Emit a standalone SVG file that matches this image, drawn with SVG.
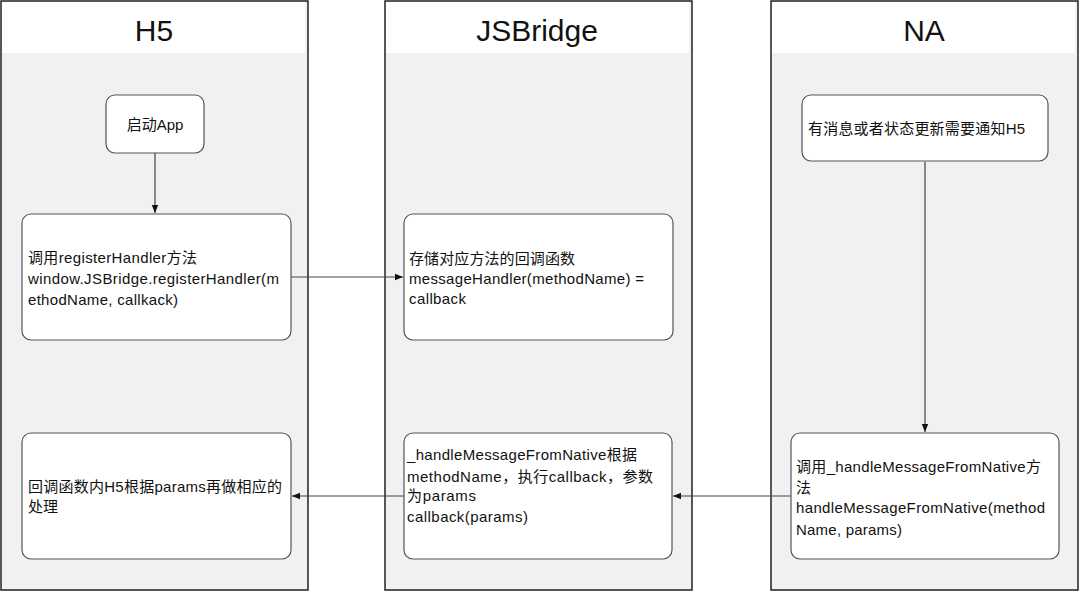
<svg xmlns="http://www.w3.org/2000/svg" width="1080" height="592" viewBox="0 0 1080 592">
<defs>
<style>
.lane{fill:#f1f0f2;stroke:#222;stroke-width:1.5}
.head{fill:#ffffff}
.title{font-family:"Liberation Sans","Noto Sans CJK SC",sans-serif;font-size:30px;fill:#111;text-anchor:middle}
.node{fill:#ffffff;stroke:#555;stroke-width:1.2}
.t{font-family:"Liberation Sans","Noto Sans CJK SC",sans-serif;font-size:15px;fill:#111}
.edge{stroke:#444;stroke-width:1.2;fill:none}
</style>
<marker id="arr" viewBox="0 0 10 10" refX="10" refY="5" markerWidth="8" markerHeight="8" markerUnits="userSpaceOnUse" orient="auto">
<path d="M0,1 L10,5 L0,9 z" fill="#111"/>
</marker>
</defs>
<rect width="1080" height="592" fill="#ffffff"/>
<g id="lane-h5">
<rect class="lane" x="1" y="1" width="307" height="589"/>
<rect class="head" x="2" y="2" width="303" height="51"/>
<text class="title" x="154" y="41">H5</text>
</g>
<g id="lane-jsbridge">
<rect class="lane" x="385" y="1" width="307" height="589"/>
<rect class="head" x="386" y="2" width="303" height="51"/>
<text class="title" x="537" y="41">JSBridge</text>
</g>
<g id="lane-na">
<rect class="lane" x="771" y="1" width="307" height="589"/>
<rect class="head" x="772" y="2" width="303" height="51"/>
<text class="title" x="924" y="41">NA</text>
</g>
<g id="connectors">
<line class="edge" x1="155" y1="153" x2="155" y2="213" marker-end="url(#arr)"/>
<line class="edge" x1="291" y1="277" x2="403" y2="277" marker-end="url(#arr)"/>
<line class="edge" x1="925" y1="162" x2="925" y2="432" marker-end="url(#arr)"/>
<line class="edge" x1="791" y1="496" x2="673" y2="496" marker-end="url(#arr)"/>
<line class="edge" x1="404" y1="496" x2="292" y2="496" marker-end="url(#arr)"/>
</g>
<g id="node-start">
<rect class="node" x="106" y="95" width="98" height="58" rx="9"/>
<text class="t" x="155" y="130" text-anchor="middle">启动App</text>
</g>
<g id="node-register">
<rect class="node" x="22" y="214" width="269" height="126" rx="9"/>
<text class="t" x="28" y="263" textLength="169" lengthAdjust="spacing">调用registerHandler方法</text>
<text class="t" x="28" y="284" textLength="251" lengthAdjust="spacing">window.JSBridge.registerHandler(m</text>
<text class="t" x="28" y="305" textLength="150" lengthAdjust="spacing">ethodName, callkack)</text>
</g>
<g id="node-store">
<rect class="node" x="404" y="214" width="269" height="126" rx="9"/>
<text class="t" x="409" y="264" textLength="166" lengthAdjust="spacing">存储对应方法的回调函数</text>
<text class="t" x="409" y="284" textLength="235" lengthAdjust="spacing">messageHandler(methodName) =</text>
<text class="t" x="409" y="304" textLength="57" lengthAdjust="spacing">callback</text>
</g>
<g id="node-notify">
<rect class="node" x="802" y="95" width="246" height="66" rx="9"/>
<text class="t" x="808" y="134" textLength="217" lengthAdjust="spacing">有消息或者状态更新需要通知H5</text>
</g>
<g id="node-call-native">
<rect class="node" x="791" y="433" width="268" height="126" rx="9"/>
<text class="t" x="796" y="472" textLength="245" lengthAdjust="spacing">调用_handleMessageFromNative方</text>
<text class="t" x="796" y="493">法</text>
<text class="t" x="796" y="513" textLength="249" lengthAdjust="spacing">handleMessageFromNative(method</text>
<text class="t" x="796" y="535" textLength="106" lengthAdjust="spacing">Name, params)</text>
</g>
<g id="node-handle">
<rect class="node" x="404" y="433" width="268" height="126" rx="9"/>
<text class="t" x="407" y="460" textLength="230" lengthAdjust="spacing">_handleMessageFromNative根据</text>
<text class="t" x="407" y="482" textLength="246" lengthAdjust="spacing">methodName，执行callback，参数</text>
<text class="t" x="407" y="501" textLength="69" lengthAdjust="spacing">为params</text>
<text class="t" x="407" y="522" textLength="121" lengthAdjust="spacing">callback(params)</text>
</g>
<g id="node-h5-handle">
<rect class="node" x="22" y="433" width="269" height="126" rx="9"/>
<text class="t" x="28" y="492" textLength="254" lengthAdjust="spacing">回调函数内H5根据params再做相应的</text>
<text class="t" x="28" y="512">处理</text>
</g>
</svg>
